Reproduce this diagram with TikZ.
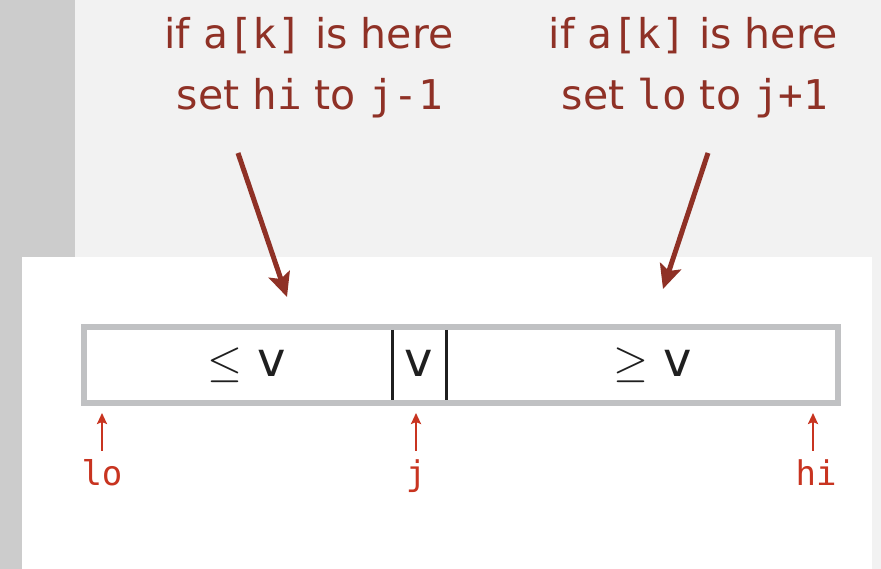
\documentclass[tikz,border=0pt]{standalone}
\usepackage{fix-cm}
\usepackage{fontspec}
\usepackage{tikz}
\usetikzlibrary{arrows.meta, positioning}
\newfontfamily\sansfont{DejaVu Sans}
\newfontfamily\monofont{DejaVu Sans Mono}
\definecolor{notarojo}{RGB}{143,49,38}
\definecolor{rojo}{RGB}{200,52,32}
\definecolor{grisborde}{RGB}{192,193,195}
\definecolor{grislado}{RGB}{204,204,204}
\definecolor{grisfondo}{RGB}{242,242,242}
\tikzset{
	x=1pt, y=-1pt, % Coordenadas en puntos, con y hacia abajo
	nota/.style={text=notarojo, font=\sansfont\fontsize{41}{41}\selectfont, inner sep=0pt, anchor=base}, % Textos de arriba
	valor/.style={text=black!88, font=\sansfont\fontsize{48}{48}\selectfont, inner sep=0pt, anchor=base}, % Textos del arreglo
	indice/.style={text=rojo, font=\monofont\fontsize{34}{40}\selectfont, inner sep=0pt, anchor=base}, % Indices
	flecha/.style={draw=notarojo, line width=5pt, -{Stealth[length=24pt,width=22pt,inset=5pt]}}, % Flechas gruesas
	puntero/.style={draw=rojo, line width=2.5pt, -{Stealth[length=11pt,width=10pt,inset=2pt]}, shorten <=8pt} % Flechas de indices
}
\newcommand{\cmp}[1]{{\fontsize{45}{45}\selectfont$#1$}}

\begin{document}
\begin{tikzpicture}
	\useasboundingbox (0,0) rectangle (881,569);
	\fill[grislado] (0,0) rectangle (881,569);
	\fill[grisfondo] (75,0) rectangle (881,569);
	\fill[white] (22,257) rectangle (872,569);

	\node[nota] (izq1) at (309,49) {if {\monofont a[k]} is here};
	\node[nota] (izq2) at (310,110) {set {\monofont hi} to {\monofont j-1}};
	\node[nota] (der1) at (693,49) {if {\monofont a[k]} is here};
	\node[nota] (der2) at (695,110) {set {\monofont lo} to {\monofont j+1}};

	\node[draw=grisborde, line width=6pt, minimum width=754pt, minimum height=76pt, inner sep=0pt] (arreglo) at (461,365) {};
	\draw[line width=3pt, black!88] (392,330) -- (392,400);
	\draw[line width=3pt, black!88] (446,330) -- (446,400);
	\node[valor] (menor) at (247,377) {\cmp{\leq} v};
	\node[valor] (pivote) at (419,377) {v};
	\node[valor] (mayor) at (653,377) {\cmp{\geq} v};

	\coordinate (izqcola) at (238,153);
	\coordinate (izqpunta) at (287,297);
	\coordinate (dercola) at (708,153);
	\coordinate (derpunta) at (663,289);
	\draw[flecha] (izqcola) -- (izqpunta);
	\draw[flecha] (dercola) -- (derpunta);

	\node[indice] (lo) at (102,485) {lo};
	\node[indice] (j) at (416,485) {j};
	\node[indice] (hi) at (816,485) {hi};
	\coordinate (lopunta) at (102,413);
	\coordinate (jpunta) at (416,413);
	\coordinate (hipunta) at (813,413);
	\draw[puntero] (lopunta |- lo.north) -- (lopunta);
	\draw[puntero] (jpunta |- j.north) -- (jpunta);
	\draw[puntero] (hipunta |- hi.north) -- (hipunta);
\end{tikzpicture}
\end{document}
